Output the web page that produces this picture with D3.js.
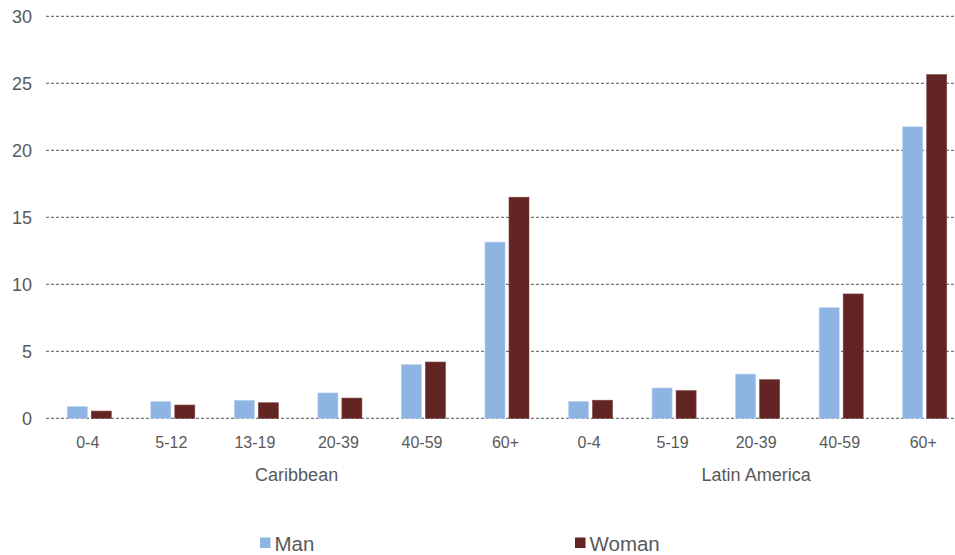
<!DOCTYPE html>
<html><head><meta charset="utf-8">
<script src="https://cdn.jsdelivr.net/npm/d3@7/dist/d3.min.js"></script>
<style>body{margin:0;background:#fff}svg{display:block;font-family:"Liberation Sans",Arial,sans-serif}</style>
</head><body><svg id="c" width="955" height="555"></svg>
<script>
const categories = ["0-4","5-12","13-19","20-39","40-59","60+","0-4","5-19","20-39","40-59","60+"];
const groups = [{name:"Caribbean", from:0, to:5},{name:"Latin America", from:6, to:10}];
const seriesNames = ["Man","Woman"];
const manValues = [0.87,1.24,1.34,1.89,4.0,13.15,1.25,2.26,3.3,8.25,21.75];
const womanValues = [0.54,0.99,1.16,1.51,4.2,16.5,1.35,2.06,2.88,9.28,25.65];
const yTicks = [0,5,10,15,20,25,30];
const colors = ["#8EB4E3","#632523"];

const svg = d3.select("#c");
const x = d3.scaleBand().domain(d3.range(categories.length)).range([46,965]).paddingInner(0).paddingOuter(0);
const y = d3.scaleLinear().domain([0,30]).range([418.3,16.3]);
const barW = 20, gap = 4;

// gridlines
svg.append("g").selectAll("line").data(yTicks).join("line")
  .attr("x1",46).attr("x2",955).attr("y1",d=>y(d)).attr("y2",d=>y(d))
  .attr("stroke","#555").attr("stroke-width",1).attr("stroke-dasharray","3,2");

// y axis labels
const yAxis = d3.axisLeft(y).tickValues(yTicks).tickSize(0).tickPadding(0);
const ya = svg.append("g").attr("transform","translate(32,0)").call(yAxis);
ya.select(".domain").remove();
ya.selectAll("text").attr("font-size","18px").attr("fill","#595959").attr("font-family","Liberation Sans, Arial, sans-serif");

const series = [manValues, womanValues];
series.forEach((vals,si)=>{
  svg.append("g").selectAll("rect").data(vals).join("rect")
    .attr("x",(d,i)=>x(i)+x.bandwidth()/2 - barW - gap/2 + si*(barW+gap) + 1.5)
    .attr("width",barW)
    .attr("y",d=>y(d))
    .attr("height",d=>y(0)-y(d))
    .attr("fill",colors[si])
    .attr("stroke", si===0 ? "#b3cdee" : "#7a4240").attr("stroke-width",0.6);
});

// category axis labels
const xAxis = d3.axisBottom(x).tickFormat(i=>categories[i]).tickSize(0).tickPadding(0);
const xa = svg.append("g").attr("transform","translate(0,436.6)").call(xAxis);
xa.select(".domain").remove();
xa.selectAll("text").attr("font-size","16px").attr("fill","#595959").attr("font-family","Liberation Sans, Arial, sans-serif");

// group labels
svg.append("g").selectAll("text").data(groups).join("text")
  .attr("x",g=>(x(g.from)+x(g.to)+x.bandwidth())/2)
  .attr("y",481)
  .attr("text-anchor","middle").attr("font-size","18px").attr("fill","#595959")
  .text(g=>g.name);

// legend
const legX = [260,575];
const leg = svg.append("g").selectAll("g").data(seriesNames).join("g")
  .attr("transform",(d,i)=>`translate(${legX[i]},0)`);
leg.append("rect").attr("x",0).attr("y",537.5).attr("width",10.5).attr("height",10.5).attr("fill",(d,i)=>colors[i]);
leg.append("text").attr("x",14.5).attr("y",550.5).attr("font-size","20.5px").attr("fill","#595959").text(d=>d);
</script></body></html>
